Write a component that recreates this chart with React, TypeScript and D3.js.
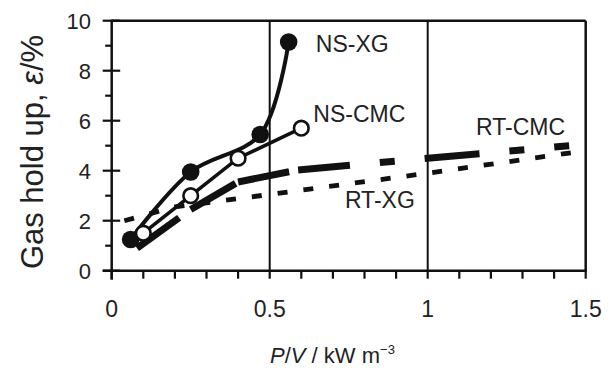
import React from 'react';
import * as d3 from 'd3';

// NS = stirred (non-standard) impeller, RT = Rushton turbine
const nsXgPower = [0.06, 0.25, 0.47, 0.56];
const nsXgHoldup = [1.25, 3.95, 5.45, 9.15];
const nsCmcPower = [0.1, 0.25, 0.4, 0.6];
const nsCmcHoldup = [1.5, 3.0, 4.5, 5.7];
const rtCmcPower = [0.08, 0.25, 0.4, 0.59, 1.0, 1.45];
const rtCmcHoldup = [0.9, 2.45, 3.55, 4.03, 4.5, 5.0];
const rtXgPower = [0.04, 0.2, 0.5, 1.0, 1.5];
const rtXgHoldup = [2.0, 2.55, 3.05, 3.9, 4.8];

const xTickValues = [0, 0.5, 1, 1.5];
const xTickLabels = ['0', '0.5', '1', '1.5'];
const yTickValues = [0, 2, 4, 6, 8, 10];
const yTickLabels = ['0', '2', '4', '6', '8', '10'];

const seriesLabels = [
  { text: 'NS-XG', x: 0.646, y: 8.75 },
  { text: 'NS-CMC', x: 0.638, y: 5.96 },
  { text: 'RT-CMC', x: 1.153, y: 5.43 },
  { text: 'RT-XG', x: 0.738, y: 2.5 },
];

const W = 613;
const H = 371;
const FONT = 'Liberation Sans, Arial, Helvetica, sans-serif';

const zip = (xs: number[], ys: number[]): [number, number][] => xs.map((v, i) => [v, ys[i]]);

export default function App() {
  const x = d3.scaleLinear().domain([0, 1.5]).range([111.7, 585.7]);
  const y = d3.scaleLinear().domain([0, 10]).range([270.7, 20.7]);

  const line = d3.line<[number, number]>().x(d => x(d[0])).y(d => y(d[1]));
  const smooth = d3
    .line<[number, number]>()
    .x(d => x(d[0]))
    .y(d => y(d[1]))
    .curve(d3.curveCatmullRom.alpha(0.5));

  const nsXg = zip(nsXgPower, nsXgHoldup);
  const nsCmc = zip(nsCmcPower, nsCmcHoldup);
  const rtCmc = zip(rtCmcPower, rtCmcHoldup);
  const rtXg = zip(rtXgPower, rtXgHoldup);

  // dash pattern restarts on every segment, like the original plot
  const rtCmcSegments = rtCmc.slice(1).map((p, i) => [rtCmc[i], p] as [number, number][]);

  const minorX = x.ticks(15);
  const allY = y.ticks(10);

  return (
    <svg
      width={W}
      height={H}
      style={{ position: 'absolute', left: 0, top: 0, background: '#fff' }}
      fontFamily={FONT}
    >
      {/* frame */}
      <line x1={x(0)} x2={x(1.5)} y1={y(10)} y2={y(10)} stroke="#111" strokeWidth={2.5} />
      <line x1={x(1.5)} x2={x(1.5)} y1={y(10)} y2={y(0)} stroke="#111" strokeWidth={2.5} />
      {[0.5, 1].map(v => (
        <line key={v} x1={x(v)} x2={x(v)} y1={y(10)} y2={y(0)} stroke="#111" strokeWidth={2} />
      ))}

      {/* x axis */}
      <line x1={x(0) - 9} x2={x(1.5) + 1} y1={y(0)} y2={y(0)} stroke="#111" strokeWidth={2.5} />
      {minorX.map(v => (
        <line key={v} x1={x(v)} x2={x(v)} y1={y(0)} y2={y(0) + 8} stroke="#111" strokeWidth={2.2} />
      ))}
      {xTickValues.map((v, i) => (
        <text key={v} x={x(v)} y={317} fontSize={23} textAnchor="middle" fill="#222">
          {xTickLabels[i]}
        </text>
      ))}
      <text x={270} y={363} fontSize={22} fill="#222">
        <tspan fontStyle="italic">P</tspan>
        <tspan>/</tspan>
        <tspan fontStyle="italic">V</tspan>
        <tspan> / kW m</tspan>
        <tspan fontSize={13} dy={-9}>−3</tspan>
      </text>

      {/* y axis */}
      <line x1={x(0)} x2={x(0)} y1={y(10) - 1} y2={y(0) + 9} stroke="#111" strokeWidth={2.5} />
      {allY.map(v =>
        v % 2 === 0 ? (
          <line key={v} x1={x(0) - 9} x2={x(0) + 8.5} y1={y(v)} y2={y(v)} stroke="#111" strokeWidth={2.2} />
        ) : (
          <line key={v} x1={x(0) - 6.5} x2={x(0)} y1={y(v)} y2={y(v)} stroke="#111" strokeWidth={2.2} />
        )
      )}
      {yTickValues.map((v, i) => (
        <text key={v} x={91} y={y(v) + 8} fontSize={22} textAnchor="end" fill="#222">
          {yTickLabels[i]}
        </text>
      ))}
      <text
        transform="translate(43,152) rotate(-90)"
        fontSize={31}
        textAnchor="middle"
        fill="#222"
      >
        <tspan>Gas hold up, </tspan>
        <tspan fontStyle="italic">ε</tspan>
        <tspan>/%</tspan>
      </text>

      {/* RT lines */}
      <path d={line(rtXg) ?? ''} fill="none" stroke="#111" strokeWidth={4.8} strokeDasharray="10 16" />
      {rtCmcSegments.map((seg, i) => (
        <path
          key={i}
          d={line(seg) ?? ''}
          fill="none"
          stroke="#111"
          strokeWidth={7}
          strokeDasharray="52 30 15 30 15 30"
        />
      ))}

      {/* NS lines */}
      <path d={smooth(nsXg) ?? ''} fill="none" stroke="#111" strokeWidth={4} />
      <path d={line(nsCmc) ?? ''} fill="none" stroke="#111" strokeWidth={3.6} />
      {nsXg.map((p, i) => (
        <circle key={i} cx={x(p[0])} cy={y(p[1])} r={8.8} fill="#111" />
      ))}
      {nsCmc.map((p, i) => (
        <circle key={i} cx={x(p[0])} cy={y(p[1])} r={7.3} fill="#fff" stroke="#111" strokeWidth={2.6} />
      ))}

      {/* series labels */}
      {seriesLabels.map(l => (
        <text key={l.text} x={x(l.x)} y={y(l.y)} fontSize={23} fill="#222">
          {l.text}
        </text>
      ))}
    </svg>
  );
}
